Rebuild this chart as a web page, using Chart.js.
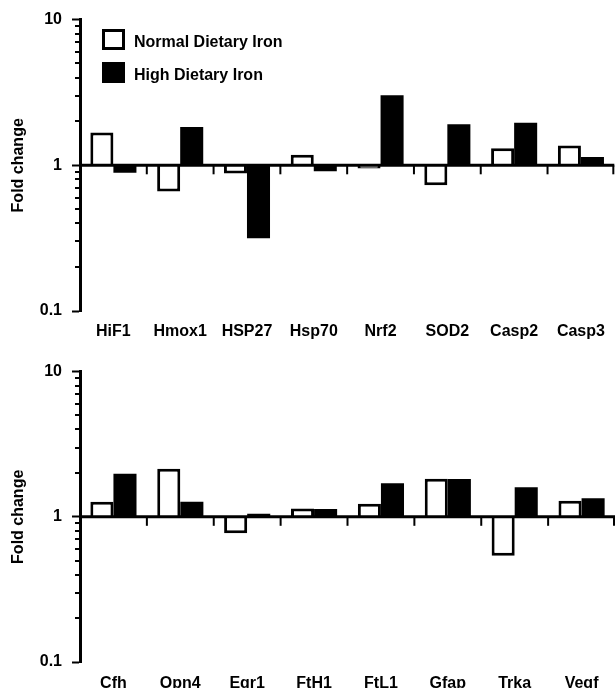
<!DOCTYPE html>
<html>
<head>
<meta charset="utf-8">
<script src="https://cdn.jsdelivr.net/npm/chart.js@4/dist/chart.umd.min.js"></script>
<style>
  html, body { margin: 0; padding: 0; background: #fff; }
  body { width: 616px; height: 688px; position: relative; overflow: hidden; }
  canvas { position: absolute; left: 0; }
</style>
</head>
<body>
<canvas id="c1" width="616" height="352" style="top:0px"></canvas>
<canvas id="c2" width="616" height="336" style="top:352px"></canvas>
<script>
// ---- data ----
const seriesNames = ['Normal Dietary Iron', 'High Dietary Iron'];
const topCategories = ['HiF1', 'Hmox1', 'HSP27', 'Hsp70', 'Nrf2', 'SOD2', 'Casp2', 'Casp3'];
const topNormal = [1.68, 0.66, 0.88, 1.18, 0.95, 0.73, 1.31, 1.37];
const topHigh   = [0.89, 1.83, 0.316, 0.91, 3.02, 1.91, 1.96, 1.14];
const bottomCategories = ['Cfh', 'Opn4', 'Egr1', 'FtH1', 'FtL1', 'Gfap', 'Trka', 'Vegf'];
const bottomNormal = [1.27, 2.14, 0.77, 1.14, 1.23, 1.83, 0.54, 1.29];
const bottomHigh   = [1.98, 1.27, 1.05, 1.13, 1.70, 1.82, 1.60, 1.34];
const yTickValues = [0.1, 1, 10];
const yTickLabels = ['0.1', '1', '10'];
const baselineValue = 1;
const yTitle = 'Fold change';

const FONT = '"Liberation Sans", Arial, Helvetica, sans-serif';
Chart.defaults.font.family = FONT;
Chart.defaults.font.size = 16;
Chart.defaults.font.weight = 'bold';
Chart.defaults.color = '#000';

// axes drawn at value 1 with boundary ticks, plus minor y ticks
const axisPlugin = {
  id: 'axisPlugin',
  afterDatasetsDraw(chart) {
    const ctx = chart.ctx;
    const x = chart.scales.x, y = chart.scales.y;
    const area = chart.chartArea;
    ctx.save();
    ctx.strokeStyle = '#000';
    // minor y ticks
    ctx.lineWidth = 2;
    const axisX = area.left - 1;
    for (let d = 0.1; d < 10; d *= 10) {
      for (let k = 2; k <= 9; k++) {
        const py = Math.round(y.getPixelForValue(d * k));
        ctx.beginPath();
        ctx.moveTo(axisX - 4, py);
        ctx.lineTo(axisX, py);
        ctx.stroke();
      }
    }
    // baseline at 1
    const by = y.getPixelForValue(baselineValue);
    ctx.lineWidth = 3;
    ctx.beginPath();
    ctx.moveTo(area.left - 1, by);
    ctx.lineTo(area.right, by);
    ctx.stroke();
    // boundary ticks
    ctx.lineWidth = 2;
    const n = chart.data.labels.length;
    for (let i = 1; i <= n; i++) {
      const l = x.getPixelForValue(i - 1), r = i < n ? x.getPixelForValue(i) : null;
      const px = r !== null ? (l + r) / 2 : area.right - 1;
      ctx.beginPath();
      ctx.moveTo(px, by);
      ctx.lineTo(px, by + 9);
      ctx.stroke();
    }
    ctx.restore();
  }
};

const legendPlugin = {
  id: 'boxLegend',
  afterDraw(chart) {
    const ctx = chart.ctx;
    const ds = chart.data.datasets;
    ctx.save();
    ctx.font = 'bold 16px ' + FONT;
    ctx.textBaseline = 'alphabetic';
    const boxX = 102, boxW = 23, boxH = 21;
    const rows = [29, 62];
    ds.forEach((d, i) => {
      const top = rows[i];
      ctx.fillStyle = d.backgroundColor;
      ctx.fillRect(boxX, top, boxW, boxH);
      if (d.borderWidth > 0) {
        ctx.strokeStyle = d.borderColor;
        ctx.lineWidth = 3;
        ctx.strokeRect(boxX + 1.5, top + 1.5, boxW - 3, boxH - 3);
      }
      ctx.fillStyle = '#000';
      ctx.fillText(d.label, 134, top + 18);
    });
    ctx.restore();
  }
};

function makeChart(id, labels, normal, high, padTop, xHeight, xPad, withLegend) {
  const plugins = [axisPlugin];
  if (withLegend) plugins.push(legendPlugin);
  return new Chart(document.getElementById(id), {
    type: 'bar',
    data: {
      labels: labels,
      datasets: [
        { label: seriesNames[0], data: normal, base: baselineValue,
          backgroundColor: '#fff', borderColor: '#000', borderWidth: 3,
          categoryPercentage: 0.69, barPercentage: 1.0 },
        { label: seriesNames[1], data: high, base: baselineValue,
          backgroundColor: '#000', borderColor: '#000', borderWidth: 0,
          categoryPercentage: 0.69, barPercentage: 1.0 }
      ]
    },
    options: {
      responsive: false,
      animation: false,
      events: [],
      layout: { padding: { top: padTop, right: 1, left: 0, bottom: 0 } },
      plugins: { legend: { display: false }, tooltip: { enabled: false } },
      scales: {
        x: {
          type: 'category',
          grid: { display: false, drawTicks: false },
          border: { display: false },
          ticks: { color: '#000', font: { size: 16, weight: 'bold' }, padding: xPad, maxRotation: 0, autoSkip: false },
          afterFit(scale) { scale.height = xHeight; }
        },
        y: {
          type: 'logarithmic',
          min: 0.1, max: 10,
          afterBuildTicks(scale) { scale.ticks = yTickValues.map(v => ({ value: v, major: true })); },
          ticks: {
            color: '#000', font: { size: 16, weight: 'bold' }, padding: 10, autoSkip: false,
            callback: (v, i) => yTickLabels[i]
          },
          grid: { display: true, drawOnChartArea: false, drawTicks: true, tickLength: 8, tickWidth: 2, tickColor: '#000', color: '#000' },
          border: { display: true, color: '#000', width: 3 },
          title: { display: true, text: yTitle, color: '#000', font: { size: 16, weight: 'bold' }, padding: { top: 9, bottom: 0 } },
          afterFit(scale) { scale.width = 80; }
        }
      }
    },
    plugins: plugins
  });
}

makeChart('c1', topCategories, topNormal, topHigh, 18, 41, 11, true);
makeChart('c2', bottomCategories, bottomNormal, bottomHigh, 19, 26, 12, false);
</script>
</body>
</html>
